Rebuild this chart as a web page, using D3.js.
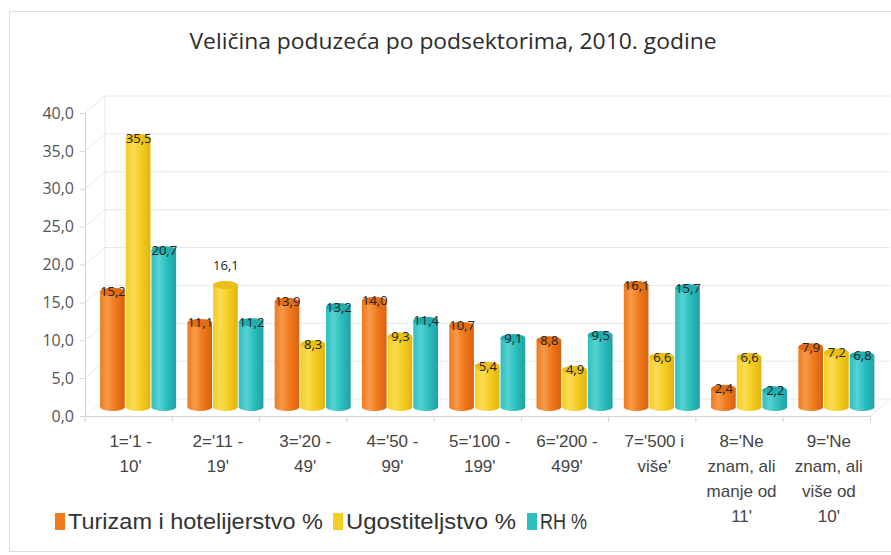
<!DOCTYPE html>
<html lang="hr">
<head>
  <meta charset="UTF-8">
  <title>Veličina poduzeća po podsektorima, 2010. godine</title>
  <script src="https://d3js.org/d3.v7.min.js"></script>
  <style>
    body { margin: 0; background: #fff; }
    svg { display: block; }
    .title { font-family: "Open Sans", sans-serif; font-size: 21px; fill: #2b2b2b; }
    .ytick { font-family: "Open Sans", sans-serif; font-size: 16px; fill: #555; }
    .xlab { font-family: "Liberation Sans Narrow", "Liberation Sans", sans-serif; font-size: 17px; fill: #444; }
    .val { font-family: "Open Sans", sans-serif; font-size: 13px; fill: #222; }
    .legend { font-family: "Liberation Sans Narrow", "Liberation Sans", sans-serif; font-size: 22px; fill: #333; }
  </style>
</head>
<body>
<div id="chart"></div>
<script>
// podaci
const categories = ["1='1 - 10'", "2='11 - 19'", "3='20 - 49'", "4='50 - 99'", "5='100 - 199'",
                    "6='200 - 499'", "7='500 i više'", "8='Ne znam, ali manje od 11'", "9='Ne znam, ali više od 10'"];
const categoryLines = [
  ["1='1 -", "10'"], ["2='11 -", "19'"], ["3='20 -", "49'"], ["4='50 -", "99'"], ["5='100 -", "199'"],
  ["6='200 -", "499'"], ["7='500 i", "više'"], ["8='Ne", "znam, ali", "manje od", "11'"], ["9='Ne", "znam, ali", "više od", "10'"]
];
const seriesNames = ["Turizam i hotelijerstvo %", "Ugostiteljstvo %", "RH %"];
const turizam = [15.2, 11.1, 13.9, 14.0, 10.7, 8.8, 16.1, 2.4, 7.9];
const ugostiteljstvo = [35.5, 16.1, 8.3, 9.3, 5.4, 4.9, 6.6, 6.6, 7.2];
const rh = [20.7, 11.2, 13.2, 11.4, 9.1, 9.5, 15.7, 2.2, 6.8];
const yTicks = [0, 5, 10, 15, 20, 25, 30, 35, 40];

const colors = [
  { base: "#f07a1c", light: "#f69a4a", dark: "#d9620e", cap: "#e26d16" },
  { base: "#f6cd22", light: "#fbdc55", dark: "#dfb40f", cap: "#e9bf16" },
  { base: "#2cbfc0", light: "#57d2d2", dark: "#1ea2a4", cap: "#22adaf" }
];

const W = 891, H = 555;
const svg = d3.select("#chart").append("svg").attr("width", W).attr("height", H);

// okvir
svg.append("rect").attr("x", 9.5).attr("y", 11.5).attr("width", 900).attr("height", 540)
   .attr("fill", "none").attr("stroke", "#dcdcdc");

svg.append("text").attr("class", "title").attr("x", 453).attr("y", 49)
   .attr("text-anchor", "middle").attr("textLength", 527).attr("lengthAdjust", "spacingAndGlyphs")
   .text("Veličina poduzeća po podsektorima, 2010. godine");

const x0 = d3.scaleBand().domain(categories).range([85, 870.5]).padding(0);
const x1 = d3.scaleBand().domain(seriesNames).range([0, x0.bandwidth()]).paddingInner(0).paddingOuter(0.2);
const y = d3.scaleLinear().domain([0, 40]).range([416, 113]);

const dxW = 20, dyW = -17;   // dubina zida
const dxB = 10, dyB = -9;    // dubina stupaca

// gradijenti
const defs = svg.append("defs");
colors.forEach((c, i) => {
  const g = defs.append("linearGradient").attr("id", "g" + i).attr("x1", "0").attr("x2", "1").attr("y1", "0").attr("y2", "0");
  g.append("stop").attr("offset", "0%").attr("stop-color", c.base);
  g.append("stop").attr("offset", "30%").attr("stop-color", c.light);
  g.append("stop").attr("offset", "60%").attr("stop-color", c.base);
  g.append("stop").attr("offset", "100%").attr("stop-color", c.dark);
});

// mreža
const grid = svg.append("g").attr("stroke", "#e8e8e8").attr("fill", "none");
yTicks.forEach(t => {
  grid.append("line").attr("x1", 85 + dxW).attr("x2", 870.5 + dxW)
      .attr("y1", y(t) + dyW).attr("y2", y(t) + dyW);
  grid.append("line").attr("x1", 85).attr("x2", 85 + dxW)
      .attr("y1", y(t)).attr("y2", y(t) + dyW);
});
grid.append("line").attr("x1", 85 + dxW).attr("x2", 85 + dxW).attr("y1", y(0) + dyW).attr("y2", y(40) + dyW);
grid.append("line").attr("x1", 870.5).attr("x2", 870.5 + dxW).attr("y1", y(0)).attr("y2", y(0) + dyW);

// os y
const yAxis = svg.append("g").attr("transform", "translate(85,0)")
  .call(d3.axisLeft(y).tickValues(yTicks).tickSize(5).tickPadding(6)
        .tickFormat(d => d3.format(".1f")(d).replace(".", ",")));
yAxis.select(".domain").attr("stroke", "#d4d4d4");
yAxis.selectAll(".tick line").attr("stroke", "#d4d4d4");
yAxis.selectAll(".tick text").attr("class", "ytick").attr("fill", null).attr("font-size", null).attr("font-family", null);

// os x
const xAxis = svg.append("g").attr("transform", "translate(0,416)")
  .call(d3.axisBottom(x0).tickSize(0).tickFormat(""));
xAxis.select(".domain").attr("stroke", "#d4d4d4");
const bounds = categories.map(c => x0(c)).concat([870.5]);
xAxis.selectAll(".bound").data(bounds).join("line").attr("class", "bound")
  .attr("x1", d => d).attr("x2", d => d).attr("y1", 0).attr("y2", 6).attr("stroke", "#d4d4d4");

categoryLines.forEach((lines, i) => {
  const t = svg.append("text").attr("class", "xlab").attr("text-anchor", "middle")
    .attr("x", x0(categories[i]) + x0.bandwidth() / 2 + 2).attr("y", 447);
  lines.forEach((l, j) => t.append("tspan").attr("x", x0(categories[i]) + x0.bandwidth() / 2 + 2)
    .attr("dy", j === 0 ? 0 : 25).text(l));
});

// stupci
const allSeries = [turizam, ugostiteljstvo, rh];
const ry = 4;
allSeries.forEach((vals, s) => {
  const g = svg.append("g");
  vals.forEach((v, i) => {
    const bx = x0(categories[i]) + x1(seriesNames[s]) + dxB;
    const bw = x1.bandwidth() - 1;
    const top = y(v) + dyB, bot = y(0) + dyB;
    const cx = bx + bw / 2;
    g.append("ellipse").attr("cx", cx).attr("cy", bot).attr("rx", bw / 2).attr("ry", ry)
      .attr("fill", `url(#g${s})`);
    g.append("rect").attr("x", bx).attr("y", top).attr("width", bw).attr("height", bot - top)
      .attr("fill", `url(#g${s})`);
    g.append("ellipse").attr("cx", cx).attr("cy", top).attr("rx", bw / 2).attr("ry", ry)
      .attr("fill", colors[s].cap);
  });
});

// vrijednosti
allSeries.forEach((vals, s) => {
  vals.forEach((v, i) => {
    const cx = x0(categories[i]) + x1(seriesNames[s]) + dxB + x1.bandwidth() / 2;
    const lift = (s === 1 && i === 1) ? 20 : 0;
    svg.append("text").attr("class", "val").attr("text-anchor", "middle")
      .attr("x", cx).attr("y", y(v) + dyB - lift + 4.5)
      .text(d3.format(".1f")(v).replace(".", ","));
  });
});

// legenda
const legendX = [55, 333, 527];
const legendW = [255, 170, 47];
seriesNames.forEach((n, s) => {
  svg.append("rect").attr("x", legendX[s]).attr("y", 513).attr("width", 10).attr("height", 17).attr("fill", colors[s].base);
  svg.append("text").attr("class", "legend").attr("x", legendX[s] + 13).attr("y", 529)
    .attr("textLength", legendW[s]).attr("lengthAdjust", "spacingAndGlyphs").text(n);
});
</script>
</body>
</html>
